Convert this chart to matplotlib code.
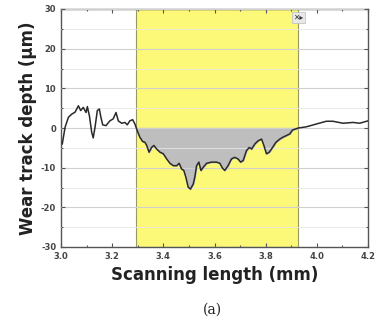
import numpy as np
import matplotlib.pyplot as plt
from matplotlib.ticker import MultipleLocator

plt.rcParams["axes.unicode_minus"] = False

# surface profile
scan_mm = [3.005, 3.016, 3.029, 3.042, 3.055, 3.068, 3.077, 3.087, 3.098, 3.103,
           3.111, 3.120, 3.126, 3.133, 3.142, 3.150, 3.156, 3.163, 3.176, 3.191,
           3.204, 3.215, 3.224, 3.237, 3.250, 3.259, 3.269, 3.280, 3.289, 3.298,
           3.308, 3.319, 3.328, 3.335, 3.344, 3.354, 3.363, 3.374, 3.387, 3.400,
           3.413, 3.426, 3.439, 3.452, 3.462, 3.471, 3.480, 3.488, 3.497, 3.506,
           3.517, 3.523, 3.530, 3.539, 3.547, 3.556, 3.569, 3.588, 3.608, 3.621,
           3.631, 3.640, 3.653, 3.666, 3.679, 3.692, 3.702, 3.712, 3.725, 3.736,
           3.745, 3.758, 3.771, 3.784, 3.793, 3.803, 3.814, 3.827, 3.840, 3.855,
           3.868, 3.881, 3.894, 3.905, 3.914, 3.928, 3.959, 3.998, 4.037, 4.063,
           4.102, 4.142, 4.167, 4.200]
depth_um = [-4.0, 0.2, 2.7, 3.5, 4.0, 5.6, 4.4, 5.2, 3.9, 5.4,
            3.1, -1.1, -2.5, 0.2, 4.4, 4.8, 2.7, 0.8, 0.6, 1.8,
            2.3, 3.9, 1.8, 1.2, 1.4, 0.8, 1.8, 2.1, 1.0, -0.7,
            -2.3, -3.4, -3.6, -4.4, -6.1, -4.9, -4.4, -5.3, -6.1, -6.5,
            -7.8, -8.9, -9.5, -9.5, -8.9, -10.3, -10.7, -12.4, -14.9, -15.4,
            -14.1, -12.4, -9.5, -8.6, -10.7, -9.9, -8.9, -8.6, -8.6, -8.9,
            -10.1, -10.7, -9.5, -7.8, -7.4, -7.8, -8.6, -8.2, -5.7, -4.9,
            -5.3, -4.0, -3.2, -2.8, -4.4, -6.5, -6.1, -4.9, -3.6, -2.8,
            -2.3, -1.9, -1.5, -0.5, -0.3, 0.0, 0.3, 1.0, 1.7, 1.7,
            1.2, 1.4, 1.2, 1.8]
track_start, track_end = 3.293, 3.928

x = np.array(scan_mm)
y = np.array(depth_um)

fig = plt.figure(figsize=(3.76, 3.24), dpi=100)
ax = fig.add_axes([61 / 376, 1 - 247 / 324, 307 / 376, 238 / 324])

ax.axvspan(track_start, track_end, color="#fdf978", ec="#9a9a60", lw=0.8, zorder=0)
inside = (x >= track_start) & (x <= track_end)
ax.fill_between(x, y, 0, where=inside & (y <= 0.05), color="#bebebe", zorder=1,
                interpolate=True)
ax.plot(x, y, color="#2a2a2a", lw=1.1, zorder=3)

ax.set_xlim(3.0, 4.2)
ax.set_ylim(-30, 30)
ax.xaxis.set_major_locator(MultipleLocator(0.2))
ax.xaxis.set_minor_locator(MultipleLocator(0.1))
ax.yaxis.set_major_locator(MultipleLocator(10))
ax.yaxis.set_minor_locator(MultipleLocator(5))
ax.grid(axis="y", which="major", color="#d0d0d0", lw=0.8, zorder=0.5)
ax.grid(axis="y", which="minor", color="#e6e6e6", lw=0.6, zorder=0.5)
ax.set_axisbelow(False)
ax.tick_params(which="both", direction="in", top=True, right=True,
               labelsize=6, colors="#555555", labelcolor="#444444", width=0.8)
ax.tick_params(which="major", length=3)
ax.tick_params(which="minor", length=1.5)
ax.set_xticks([3.0, 3.2, 3.4, 3.6, 3.8, 4.0, 4.2])
ax.set_xticklabels(["3.0", "3.2", "3.4", "3.6", "3.8", "4.0", "4.2"], fontweight="bold")
for lab in ax.get_yticklabels():
    lab.set_fontweight("bold")
for s in ax.spines.values():
    s.set_color("#555555")
    s.set_linewidth(1.0)

ax.set_xlabel("Scanning length (mm)", fontsize=12, fontweight="bold",
              color="#222222", labelpad=4)
ax.set_ylabel("Wear track depth (μm)", fontsize=12, fontweight="bold",
              color="#222222", labelpad=3)

ax.text(3.928, 29, "✕▸", fontsize=5.5, color="#333333", ha="center", va="top",
        bbox=dict(boxstyle="square,pad=0.15", fc="#e8e8e8", ec="#bbbbbb", lw=0.5),
        zorder=5)

fig.text(212 / 376, 1 - 310 / 324, "(a)", ha="center", va="center",
         fontsize=10, family="DejaVu Serif", color="#222222")

fig.savefig("out.png", dpi=100)
